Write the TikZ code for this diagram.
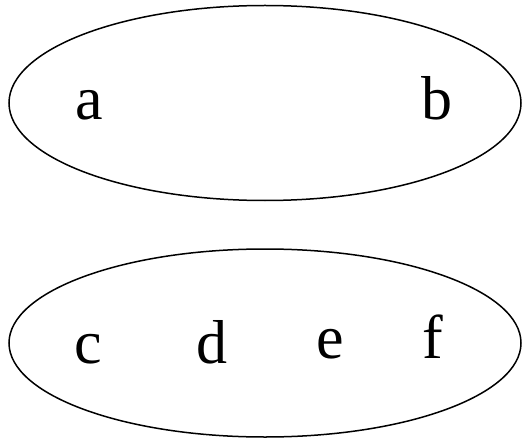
\documentclass[tikz,border=0pt]{standalone}
\usepackage{fontspec}
\setmainfont{Liberation Serif}
\begin{document}
\begin{tikzpicture}[x=1pt,y=-1pt,
  grp/.style={draw=black,line width=1.5pt},
  lbl/.style={font=\fontsize{62}{62}\selectfont,anchor=base,inner sep=0pt}]
\useasboundingbox (0,0) rectangle (522,441);
\draw[grp] (265,103) ellipse [x radius=256, y radius=97.5];
\draw[grp] (265,343) ellipse [x radius=256, y radius=94];
\node[lbl] (a) at (89,120) {a};
\node[lbl] (b) at (437,120) {b};
\node[lbl] (c) at (88,363) {c};
\node[lbl] (d) at (212,363) {d};
\node[lbl] (e) at (330,358) {e};
\node[lbl] (f) at (433,358) {f};
\end{tikzpicture}
\end{document}
